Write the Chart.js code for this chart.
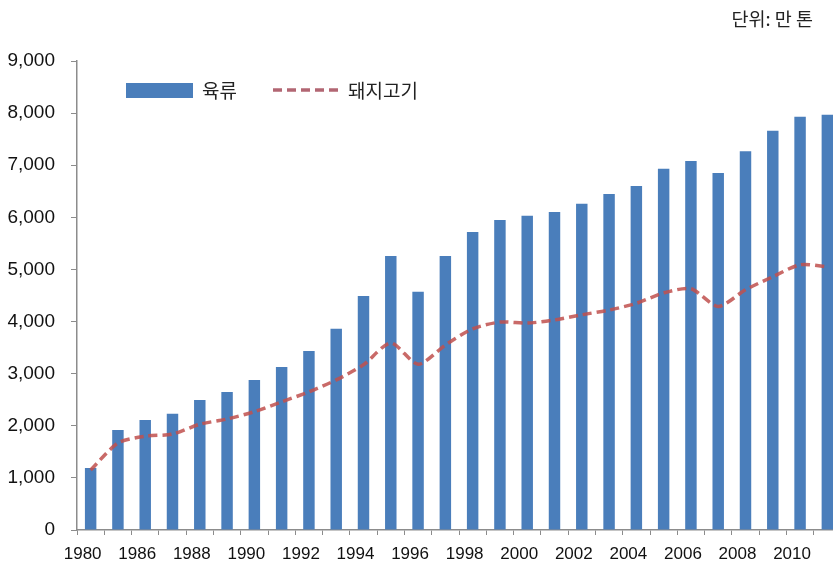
<!DOCTYPE html>
<html>
<head>
<meta charset="utf-8">
<script src="https://cdn.jsdelivr.net/npm/chart.js@4/dist/chart.umd.min.js"></script>
<style>
  html, body { margin: 0; padding: 0; background: #fff; overflow: hidden; }
  #wrap { width: 845px; height: 564px; }
</style>
</head>
<body>
<div id="wrap"><canvas id="chart" width="845" height="564"></canvas></div>
<script>
var years = ['1980', '1985', '1986', '1987', '1988', '1989', '1990', '1991', '1992', '1993',
    '1994', '1995', '1996', '1997', '1998', '1999', '2000', '2001', '2002', '2003',
    '2004', '2005', '2006', '2007', '2008', '2009', '2010', '2011'];

// 육류 (meat total), 만 톤
var meat = [1190, 1920, 2110, 2230, 2495, 2650, 2880, 3130, 3435, 3860,
    4490, 5260, 4570, 5260, 5720, 5950, 6030, 6100, 6260, 6450,
    6600, 6930, 7080, 6850, 7270, 7660, 7930, 7970];

// 돼지고기 (pork), 만 톤
var pork = [1150, 1670, 1800, 1840, 2030, 2130, 2270, 2460, 2650, 2880,
    3170, 3590, 3180, 3550, 3860, 3990, 3970, 4030, 4130, 4220,
    4350, 4550, 4630, 4290, 4610, 4860, 5090, 5050];

var seriesNames = ['육류', '돼지고기'];
var unitText = '단위: 만 톤';

var barColour = '#4a7ebb';
var lineColour = 'rgba(192, 80, 77, 0.85)';
var axisColour = '#8c8c8c';
var numFont = "'Liberation Sans', Arial, sans-serif";
var korFont = "'Noto Sans CJK KR', sans-serif";

// legend + unit label drawn straight on the canvas
var extras = {
    id: 'extras',
    afterDraw: function(chart) {
        var c = chart.ctx;
        c.save();
        c.fillStyle = barColour;
        c.fillRect(126, 83, 67, 15);

        c.strokeStyle = 'rgba(170, 85, 100, 0.9)';
        c.lineWidth = 3.5;
        c.setLineDash([9, 5]);
        c.beginPath();
        c.moveTo(273, 90);
        c.lineTo(341, 90);
        c.stroke();
        c.setLineDash([]);

        c.fillStyle = '#222';
        c.font = '19px ' + korFont;
        c.textBaseline = 'middle';
        c.textAlign = 'left';
        c.fillText(seriesNames[0], 202, 91);
        c.fillText(seriesNames[1], 348, 91);

        c.font = '18.5px ' + korFont;
        c.textAlign = 'right';
        c.fillText(unitText, 813, 19);
        c.restore();
    }
};

var ctx = document.getElementById('chart').getContext('2d');

var chart = new Chart(ctx, {
    type: 'bar',
    data: {
        labels: years,
        datasets: [{
            type: 'line',
            label: seriesNames[1],
            data: pork,
            borderColor: lineColour,
            borderWidth: 3.5,
            borderDash: [9, 5],
            pointRadius: 0,
            tension: 0.25,
            fill: false,
            order: 0
        }, {
            label: seriesNames[0],
            data: meat,
            backgroundColor: barColour,
            barPercentage: 0.42,
            categoryPercentage: 1,
            order: 1
        }]
    },
    options: {
        responsive: false,
        animation: false,
        layout: {
            padding: { top: 61, right: 4, left: 0, bottom: 0 }
        },
        plugins: {
            legend: { display: false },
            tooltip: { enabled: false },
            title: { display: false }
        },
        scales: {
            x: {
                offset: true,
                afterFit: function(scale) { scale.height = 34; },
                grid: {
                    display: true,
                    drawOnChartArea: false,
                    offset: true,
                    color: axisColour,
                    tickLength: 5
                },
                border: { display: true, color: axisColour, width: 1.5 },
                ticks: {
                    autoSkip: false,
                    maxRotation: 0,
                    padding: 9,
                    labelOffset: -8,
                    color: '#111',
                    font: { family: numFont, size: 17 },
                    callback: function(value, index) {
                        return index % 2 === 0 ? years[index] : '';
                    }
                }
            },
            y: {
                min: 0,
                max: 9000,
                afterFit: function(scale) { scale.width = 77; },
                grid: {
                    display: true,
                    drawOnChartArea: false,
                    color: axisColour,
                    tickLength: 6
                },
                border: { display: true, color: axisColour, width: 1.5 },
                ticks: {
                    stepSize: 1000,
                    padding: 16,
                    color: '#111',
                    font: { family: numFont, size: 19 },
                    callback: function(value) {
                        return value.toLocaleString('en-US');
                    }
                }
            }
        }
    },
    plugins: [extras]
});
</script>
</body>
</html>
